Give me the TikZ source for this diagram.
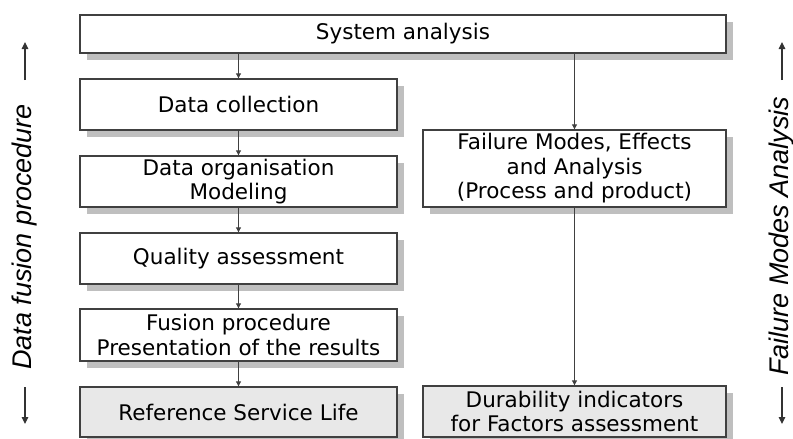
\documentclass[tikz,border=0pt]{standalone}
\usepackage{fontspec}
\setmainfont{DejaVu Sans}
\newfontfamily\sidefont{Liberation Sans}
\usetikzlibrary{shadows,arrows.meta}
\definecolor{boxline}{HTML}{404040}
\definecolor{shadowgray}{HTML}{BFBFBF}
\definecolor{lightfill}{HTML}{E8E8E8}
\tikzset{
  box/.style={draw=boxline, line width=1.4pt, fill=white, inner sep=0pt, align=center,
    font=\fontsize{21.5}{24.5}\selectfont,
    drop shadow={shadow xshift=7pt, shadow yshift=-7pt, fill=shadowgray, opacity=1}},
  leftbox/.style={box, minimum width=317pt},
  rightbox/.style={box, minimum width=303pt},
  resultbox/.style={fill=lightfill},
  arr/.style={draw=boxline, line width=1.1pt, -{Triangle[length=5pt,width=5pt]}},
  sidelabel/.style={rotate=90, font=\sidefont\itshape\fontsize{27}{30}\selectfont},
  sidearr/.style={draw=black!80, line width=1.2pt, -{Triangle[length=7pt,width=6.5pt]}}
}
\begin{document}
\begin{tikzpicture}[x=1pt,y=-1pt]
\useasboundingbox (0,0) rectangle (793,439);
\node[box, minimum width=646pt, minimum height=38pt] (sys) at (403,34) {System analysis};
\node[leftbox, minimum height=51pt] (dc) at (238.5,104.5) {Data collection};
\node[leftbox, minimum height=51pt] (dorg) at (238.5,181.5) {Data organisation\\Modeling};
\node[leftbox, minimum height=51pt] (qa) at (238.5,258.5) {Quality assessment};
\node[leftbox, minimum height=52pt] (fp) at (238.5,335) {Fusion procedure\\Presentation of the results};
\node[leftbox, resultbox, minimum height=50pt] (rsl) at (238.5,412) {Reference Service Life};
\node[rightbox, minimum height=77pt] (fmea) at (574.5,168.5) {Failure Modes, Effects\\and Analysis\\(Process and product)};
\node[rightbox, resultbox, minimum height=51pt] (dur) at (574.5,411.5) {Durability indicators\\for Factors assessment};

\draw[arr] (sys.south -| dc.north) -- (dc.north);
\draw[arr] (dc) -- (dorg);
\draw[arr] (dorg) -- (qa);
\draw[arr] (qa) -- (fp);
\draw[arr] (fp) -- (rsl);
\draw[arr] (sys.south -| fmea.north) -- (fmea.north);
\draw[arr] (fmea) -- (dur);

\node[sidelabel] (lt) at (25,237) {Data fusion procedure};
\node[sidelabel] (rt) at (782,236) {Failure Modes Analysis};
\coordinate (lu1) at (25,80); \coordinate (lu2) at (25,42);
\coordinate (ld1) at (25,387); \coordinate (ld2) at (25,424);
\coordinate (ru1) at (782,80); \coordinate (ru2) at (782,42);
\coordinate (rd1) at (782,387); \coordinate (rd2) at (782,424);
\draw[sidearr] (lu1) -- (lu2);
\draw[sidearr] (ld1) -- (ld2);
\draw[sidearr] (ru1) -- (ru2);
\draw[sidearr] (rd1) -- (rd2);
\end{tikzpicture}
\end{document}
